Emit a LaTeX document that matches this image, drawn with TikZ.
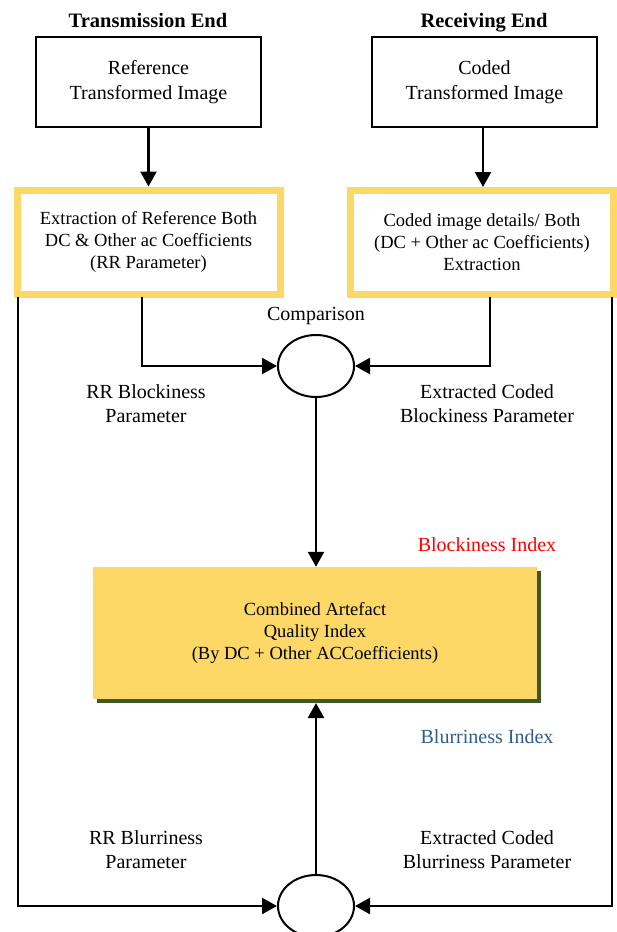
\documentclass[tikz,border=0pt]{standalone}
\usepackage{fontspec}
\setmainfont{Liberation Serif}
\usetikzlibrary{arrows.meta,shapes.geometric,shadows}
\definecolor{gold}{HTML}{FDD866}
\definecolor{shadowgreen}{HTML}{3D5A24}
\definecolor{blurblue}{HTML}{2F5D8C}
\begin{document}
\begin{tikzpicture}[x=1pt,y=-1pt,
  conn/.style={line width=2.4pt},
  arr/.style={conn,-{Triangle[length=15pt,width=16pt]}},
  topbox/.style={draw,line width=2pt,minimum width=225pt,minimum height=90pt,align=center,font=\rmfamily\fontsize{20}{25}\selectfont},
  ybox/.style={draw=gold,line width=7pt,minimum width=263pt,minimum height=104pt,align=center,font=\rmfamily\fontsize{18.5}{21.7}\selectfont},
  title/.style={anchor=base,font=\rmfamily\fontsize{20.5}{24}\selectfont\bfseries},
  lbl/.style={align=center,font=\rmfamily\fontsize{20}{24}\selectfont},
  cmp/.style={draw,ellipse,line width=2pt,minimum width=76pt,minimum height=62pt,inner sep=0pt}
]
\useasboundingbox (0,0) rectangle (616,932);
\node[title] (t1) at (148,27) {Transmission End};
\node[title] (t2) at (484,27) {Receiving End};
\node[topbox] (b1) at (148.5,82) {Reference\\Transformed Image};
\node[topbox] (b2) at (484.5,82) {Coded\\Transformed Image};
\node[ybox] (y1) at (148.5,242) {Extraction of Reference Both\\DC \& Other ac Coefficients\\(RR Parameter)};
\node[ybox] (y2) at (482,242) {Coded image details/ Both\\(DC + Other ac Coefficients)\\Extraction};
\node[cmp] (c1) at (316,366) {};
\node[cmp] (c2) at (316,906) {};
\node[lbl] (comp) at (316,316) {Comparison};
\node[lbl] (l1) at (146,404) {RR Blockiness\\Parameter};
\node[lbl] (l2) at (487,404) {Extracted Coded\\Blockiness Parameter};
\node[lbl,text=red] (bi) at (487,545) {Blockiness Index};
\node[lbl,text=blurblue] (bl) at (487,737) {Blurriness Index};
\node[lbl] (l3) at (146,850) {RR Blurriness\\Parameter};
\node[lbl] (l4) at (487,850) {Extracted Coded\\Blurriness Parameter};
\node[fill=gold,minimum width=444pt,minimum height=132pt,align=center,
  font=\rmfamily\fontsize{18.5}{21.7}\selectfont,
  drop shadow={shadow xshift=4pt,shadow yshift=-4pt,fill=shadowgreen,opacity=1}]
  (cb) at (315,633) {Combined Artefact\\Quality Index\\(By DC + Other ACCoefficients)};
% arrows
\draw[arr] (b1.south) -- (y1.north);
\draw[arr] (b2.south -| 483,0) -- (483,187);
\coordinate (p1) at (142,297);
\coordinate (p2) at (490,297);
\draw[arr] (p1) |- (c1.west);
\draw[arr] (p2) |- (c1.east);
\draw[arr] (c1.south) -- (c1.south |- cb.north);
\coordinate (q1) at (18,297);
\coordinate (q2) at (612,297);
\draw[arr] (q1) |- (c2.west);
\draw[arr] (q2) |- (c2.east);
\draw[arr] (c2.north) -- (316,703);
\end{tikzpicture}
\end{document}
